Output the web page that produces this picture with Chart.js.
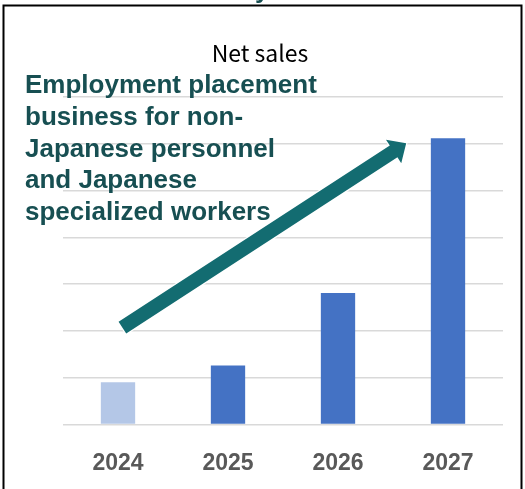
<!DOCTYPE html>
<html lang="en">
<head>
    <meta charset="UTF-8">
    <title>Net sales</title>
    <script src="https://cdn.jsdelivr.net/npm/chart.js"></script>
    <style>
        html, body {
            margin: 0;
            padding: 0;
            background: white;
            overflow: hidden;
        }
        #salesChart {
            display: block;
        }
    </style>
</head>
<body>
    <canvas id="salesChart" width="525" height="489"></canvas>

    <script>
        // net sales by year (relative units, gridline = 1)
        const years = ['2024', '2025', '2026', '2027'];
        const netSales = [0.9, 1.26, 2.81, 6.12];
        const actualYear = '2024';

        // growth arrow: [category index, value] for tail and tip
        const arrowTail = [0.04, 2.07];
        const arrowTip = [2.62, 6.01];

        const calloutLines = [
            'Employment placement',
            'business for non-',
            'Japanese personnel',
            'and Japanese',
            'specialized workers'
        ];

        const teal = '#136c71';
        const darkTeal = '#174f52';

        const overlay = {
            id: 'overlay',
            afterDraw(chart) {
                const c = chart.ctx;
                const x = chart.scales.x, y = chart.scales.y;
                c.save();

                // frame
                c.strokeStyle = '#000';
                c.lineWidth = 2;
                c.strokeRect(3.5, 5.5, 518, 520);

                // tail of the heading above the frame
                c.fillStyle = darkTeal;
                c.font = 'bold 26px "Liberation Sans"';
                c.textBaseline = 'alphabetic';
                c.fillText('y', 255, -2);

                // chart title
                c.fillStyle = '#000';
                c.font = '23px "Noto Sans CJK JP"';
                c.textAlign = 'center';
                c.textBaseline = 'middle';
                c.fillText('Net sales', 260, 53);

                // arrow
                const x0 = x.getPixelForValue(arrowTail[0]), y0 = y.getPixelForValue(arrowTail[1]);
                const x1 = x.getPixelForValue(arrowTip[0]), y1 = y.getPixelForValue(arrowTip[1]);
                const ang = Math.atan2(y1 - y0, x1 - x0);
                const len = Math.hypot(x1 - x0, y1 - y0);
                const shaft = 7, head = 14, headLen = 15;
                c.translate(x0, y0);
                c.rotate(ang);
                c.beginPath();
                c.moveTo(0, -shaft);
                c.lineTo(len - headLen, -shaft);
                c.lineTo(len - headLen, -head);
                c.lineTo(len, 0);
                c.lineTo(len - headLen, head);
                c.lineTo(len - headLen, shaft);
                c.lineTo(0, shaft);
                c.closePath();
                c.strokeStyle = '#fff';
                c.lineWidth = 2.5;
                c.lineJoin = 'miter';
                c.stroke();
                c.fillStyle = teal;
                c.fill();
                c.setTransform(1, 0, 0, 1, 0, 0);

                // callout text
                c.fillStyle = darkTeal;
                c.font = 'bold 26px "Liberation Sans"';
                c.textAlign = 'left';
                c.textBaseline = 'alphabetic';
                calloutLines.forEach((line, i) => {
                    c.fillText(line, 25, 93 + i * 31.8);
                });

                c.restore();
            }
        };

        new Chart(document.getElementById('salesChart'), {
            type: 'bar',
            data: {
                labels: years,
                datasets: [{
                    label: 'Net sales',
                    data: netSales,
                    backgroundColor: ctx => years[ctx.dataIndex] === actualYear ? '#b4c7e7' : '#4472c4',
                    borderWidth: 0,
                    categoryPercentage: 1,
                    barPercentage: 0.312
                }]
            },
            options: {
                responsive: false,
                animation: false,
                layout: {
                    padding: { top: 97, left: 63, right: 22, bottom: -13 }
                },
                plugins: {
                    legend: { display: false },
                    tooltip: { enabled: false }
                },
                scales: {
                    x: {
                        grid: { display: false, drawTicks: false },
                        border: { display: false },
                        ticks: {
                            color: '#595959',
                            padding: 25,
                            font: { family: '"Liberation Sans"', size: 23, weight: 'bold' }
                        }
                    },
                    y: {
                        min: 0,
                        max: 7,
                        ticks: { display: false, stepSize: 1 },
                        grid: { color: '#d9d9d9', lineWidth: 1.5, drawTicks: false },
                        border: { display: false }
                    }
                }
            },
            plugins: [overlay]
        });
    </script>
</body>
</html>
